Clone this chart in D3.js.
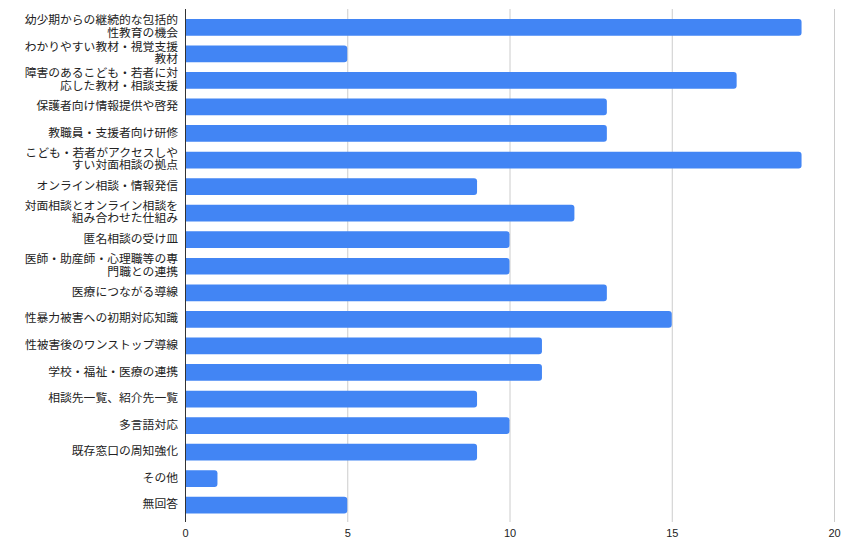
<!DOCTYPE html>
<html>
<head>
<meta charset="utf-8">
<script src="https://cdn.jsdelivr.net/npm/d3@7"></script>
<style>
  body { margin: 0; background: #fff; }
  svg { font-family: "Liberation Sans", Arial, "Noto Sans CJK JP", sans-serif; }
</style>
</head>
<body>
<svg id="chart"></svg>
<script>
// horizontal bar chart

var categories = [
    "幼少期からの継続的な包括的\n性教育の機会",
    "わかりやすい教材・視覚支援\n教材",
    "障害のあるこども・若者に対\n応した教材・相談支援",
    "保護者向け情報提供や啓発",
    "教職員・支援者向け研修",
    "こども・若者がアクセスしや\nすい対面相談の拠点",
    "オンライン相談・情報発信",
    "対面相談とオンライン相談を\n組み合わせた仕組み",
    "匿名相談の受け皿",
    "医師・助産師・心理職等の専\n門職との連携",
    "医療につながる導線",
    "性暴力被害への初期対応知識",
    "性被害後のワンストップ導線",
    "学校・福祉・医療の連携",
    "相談先一覧、紹介先一覧",
    "多言語対応",
    "既存窓口の周知強化",
    "その他",
    "無回答"
];
var values = [19, 5, 17, 13, 13, 19, 9, 12, 10, 10, 13, 15, 11, 11, 9, 10, 9, 1, 5];
var xTicks = [0, 5, 10, 15, 20];

var width = 850;
var height = 550;
var left = 185, right = 834;
var gridTop = 9, gridBottom = 522;

var svg = d3.select("#chart")
    .attr("width", width)
    .attr("height", height);

var x = d3.scaleLinear().domain([0, 20]).range([left, right]);
var y = d3.scaleBand()
    .domain(d3.range(categories.length))
    .range([14, 518.5])
    .paddingInner(0.37)
    .paddingOuter(0.185);

// gridlines
svg.append("g")
    .selectAll("line")
    .data(xTicks.slice(1))
    .enter()
    .append("line")
    .attr("x1", function(d) { return x(d) + 0.5; })
    .attr("x2", function(d) { return x(d) + 0.5; })
    .attr("y1", gridTop)
    .attr("y2", gridBottom)
    .attr("stroke", "#cccccc")
    .attr("stroke-width", 1);

// bars with rounded right end
function barPath(i) {
    var x0 = x(0), x1 = x(values[i]);
    var y0 = y(i), h = y.bandwidth();
    var r = Math.min(3, (x1 - x0) / 2);
    return "M" + x0 + "," + y0 +
        "H" + (x1 - r) +
        "Q" + x1 + "," + y0 + " " + x1 + "," + (y0 + r) +
        "V" + (y0 + h - r) +
        "Q" + x1 + "," + (y0 + h) + " " + (x1 - r) + "," + (y0 + h) +
        "H" + x0 + "Z";
}

svg.append("g")
    .selectAll("path")
    .data(values)
    .enter()
    .append("path")
    .attr("d", function(d, i) { return barPath(i); })
    .attr("fill", "#4285f4");

// baseline
svg.append("line")
    .attr("x1", left + 0.5)
    .attr("x2", left + 0.5)
    .attr("y1", gridTop)
    .attr("y2", gridBottom)
    .attr("stroke", "#333333")
    .attr("stroke-width", 1);

// x axis labels
var xAxis = d3.axisBottom(x).tickValues(xTicks).tickSize(0).tickPadding(0);
var gx = svg.append("g")
    .attr("transform", "translate(0," + (gridBottom + 7) + ")")
    .call(xAxis);
gx.select(".domain").remove();
gx.selectAll("text")
    .attr("font-size", 11)
    .attr("font-family", "'Liberation Sans', Arial, sans-serif")
    .attr("fill", "#222222");

// category labels
var labels = svg.append("g")
    .selectAll("text")
    .data(categories)
    .enter()
    .append("text")
    .attr("text-anchor", "end")
    .attr("font-size", 11.8)
    .attr("font-family", "'Noto Sans CJK JP', sans-serif")
    .attr("fill", "#222222");

labels.each(function(d, i) {
    var lines = d.split("\n");
    var cy = y(i) + y.bandwidth() / 2;
    var lh = 12.4;
    var start = cy - (lines.length - 1) * lh / 2;
    var t = d3.select(this);
    lines.forEach(function(line, j) {
        t.append("tspan")
            .attr("x", 178)
            .attr("y", start + j * lh - 1)
            .attr("dy", "0.35em")
            .text(line);
    });
});
</script>
</body>
</html>
